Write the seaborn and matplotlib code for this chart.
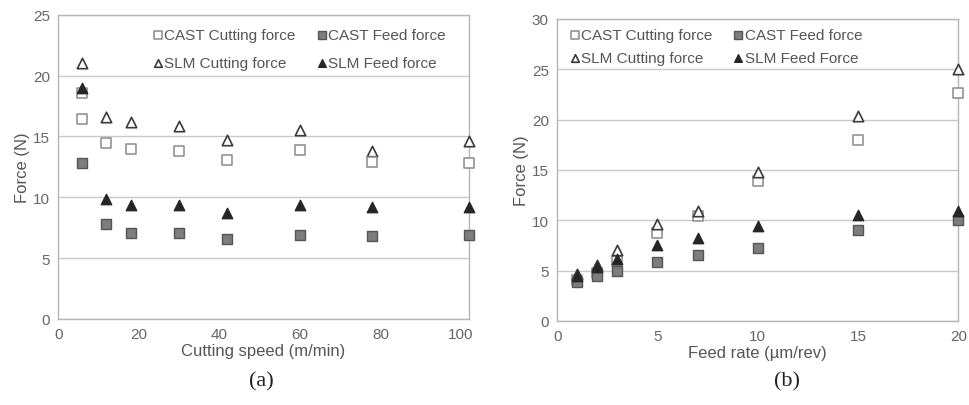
import matplotlib
matplotlib.use("Agg")
import matplotlib.pyplot as plt
import seaborn as sns
import pandas as pd

# (a) forces versus cutting speed
speed_cast_cut = [6, 6, 12, 18, 30, 42, 60, 78, 102]
cast_cut_a = [18.6, 16.4, 14.5, 14.0, 13.8, 13.1, 13.9, 12.9, 12.8]
speed = [6, 12, 18, 30, 42, 60, 78, 102]
cast_feed_a = [12.8, 7.8, 7.1, 7.1, 6.6, 6.9, 6.8, 6.9]
slm_cut_a = [21.0, 16.6, 16.2, 15.9, 14.7, 15.5, 13.8, 14.6]
slm_feed_a = [19.0, 9.9, 9.4, 9.4, 8.7, 9.4, 9.2, 9.2]

# (b) forces versus feed rate
feed = [1, 2, 3, 5, 7, 10, 15, 20]
cast_cut_b = [4.1, 4.8, 6.0, 8.7, 10.4, 13.9, 18.0, 22.6]
cast_feed_b = [3.9, 4.5, 5.0, 5.9, 6.6, 7.2, 9.0, 10.0]
slm_cut_b = [4.7, 5.6, 7.0, 9.6, 10.9, 14.8, 20.4, 25.0]
slm_feed_b = [4.5, 5.4, 6.2, 7.5, 8.2, 9.4, 10.5, 10.9]

sns.set_theme(style="white")
plt.rcParams["font.family"] = ["Liberation Sans", "DejaVu Sans"]

TXT = "#5a5258"
GRID = "#c8c8c8"

STYLES = {
    "cast_cut": dict(marker="s", facecolor="white", edgecolor="#8a8a8a", s=44, linewidth=1.1),
    "cast_feed": dict(marker="s", facecolor="#7d7d7d", edgecolor="#555555", s=50, linewidth=1.0),
    "slm_cut": dict(marker="^", facecolor="white", edgecolor="#3a3a3a", s=56, linewidth=1.2),
    "slm_feed": dict(marker="^", facecolor="#262626", edgecolor="#262626", s=56, linewidth=1.0),
}

fig = plt.figure(figsize=(9.69, 4.06), dpi=100)
ax_a = fig.add_axes([0.060, 0.212, 0.424, 0.749])
ax_b = fig.add_axes([0.575, 0.207, 0.414, 0.744])


def draw(ax, series, labels):
    for key, (x, y) in series.items():
        df = pd.DataFrame({"x": x, "y": y})
        sns.scatterplot(data=df, x="x", y="y", ax=ax, label=labels[key],
                        zorder=3, clip_on=False, **STYLES[key])


draw(ax_a,
     {"slm_cut": (speed, slm_cut_a), "cast_cut": (speed_cast_cut, cast_cut_a),
      "cast_feed": (speed, cast_feed_a), "slm_feed": (speed, slm_feed_a)},
     {"cast_cut": "CAST Cutting force", "cast_feed": "CAST Feed force",
      "slm_cut": "SLM Cutting force", "slm_feed": "SLM Feed force"})
draw(ax_b,
     {"cast_cut": (feed, cast_cut_b), "slm_cut": (feed, slm_cut_b),
      "cast_feed": (feed, cast_feed_b), "slm_feed": (feed, slm_feed_b)},
     {"cast_cut": "CAST Cutting force", "cast_feed": "CAST Feed force",
      "slm_cut": "SLM Cutting force", "slm_feed": "SLM Feed Force"})

ax_a.set_xlim(0, 102)
ax_a.set_ylim(0, 25)
ax_a.set_xticks([0, 20, 40, 60, 80, 100])
ax_a.set_yticks([0, 5, 10, 15, 20, 25])
ax_a.set_xlabel("Cutting speed (m/min)", fontsize=12, color=TXT, labelpad=1)

ax_b.set_xlim(0, 20)
ax_b.set_ylim(0, 30)
ax_b.set_xticks([0, 5, 10, 15, 20])
ax_b.set_yticks([0, 5, 10, 15, 20, 25, 30])
ax_b.set_xlabel("Feed rate (\u00b5m/rev)", fontsize=12, color=TXT, labelpad=1)

for ax in (ax_a, ax_b):
    ax.set_ylabel("Force (N)", fontsize=12, color=TXT, labelpad=2)
    ax.yaxis.grid(True, color=GRID, linewidth=1.0)
    ax.set_axisbelow(True)
    for sp in ax.spines.values():
        sp.set_color("#b5b5b5")
        sp.set_linewidth(1.0)
    ax.tick_params(axis="both", labelsize=11, labelcolor="#666666", color="#b5b5b5",
                   length=3, width=1.0, pad=3)


# two-row legends, CAST on the first row, SLM on the second
def legend(ax, order, anchor, spacing):
    h, l = ax.get_legend_handles_labels()
    d = dict(zip(l, h))
    # ncol=2 fills column-wise: column 1 = cutting, column 2 = feed
    labs = [order[0], order[2], order[1], order[3]]
    leg = ax.legend([d[k] for k in labs], labs, ncol=2, frameon=False,
                    loc="upper left", bbox_to_anchor=anchor, fontsize=11,
                    handletextpad=-0.1, columnspacing=1.2, labelspacing=spacing,
                    handlelength=1.0, borderaxespad=0)
    for t in leg.get_texts():
        t.set_color(TXT)
    for hd in leg.legend_handles:
        hd.set_sizes([30])


legend(ax_a, ["CAST Cutting force", "CAST Feed force", "SLM Cutting force", "SLM Feed force"],
       (0.21, 0.978), 0.95)
legend(ax_b, ["CAST Cutting force", "CAST Feed force", "SLM Cutting force", "SLM Feed Force"],
       (0.01, 0.99), 0.62)

fig.text(0.270, 0.06, "(a)", fontsize=16, family=["Liberation Serif", "DejaVu Serif"],
         ha="center", va="center", color="#222222")
fig.text(0.812, 0.06, "(b)", fontsize=16, family=["Liberation Serif", "DejaVu Serif"],
         ha="center", va="center", color="#222222")

fig.savefig("out.png", dpi=100)
